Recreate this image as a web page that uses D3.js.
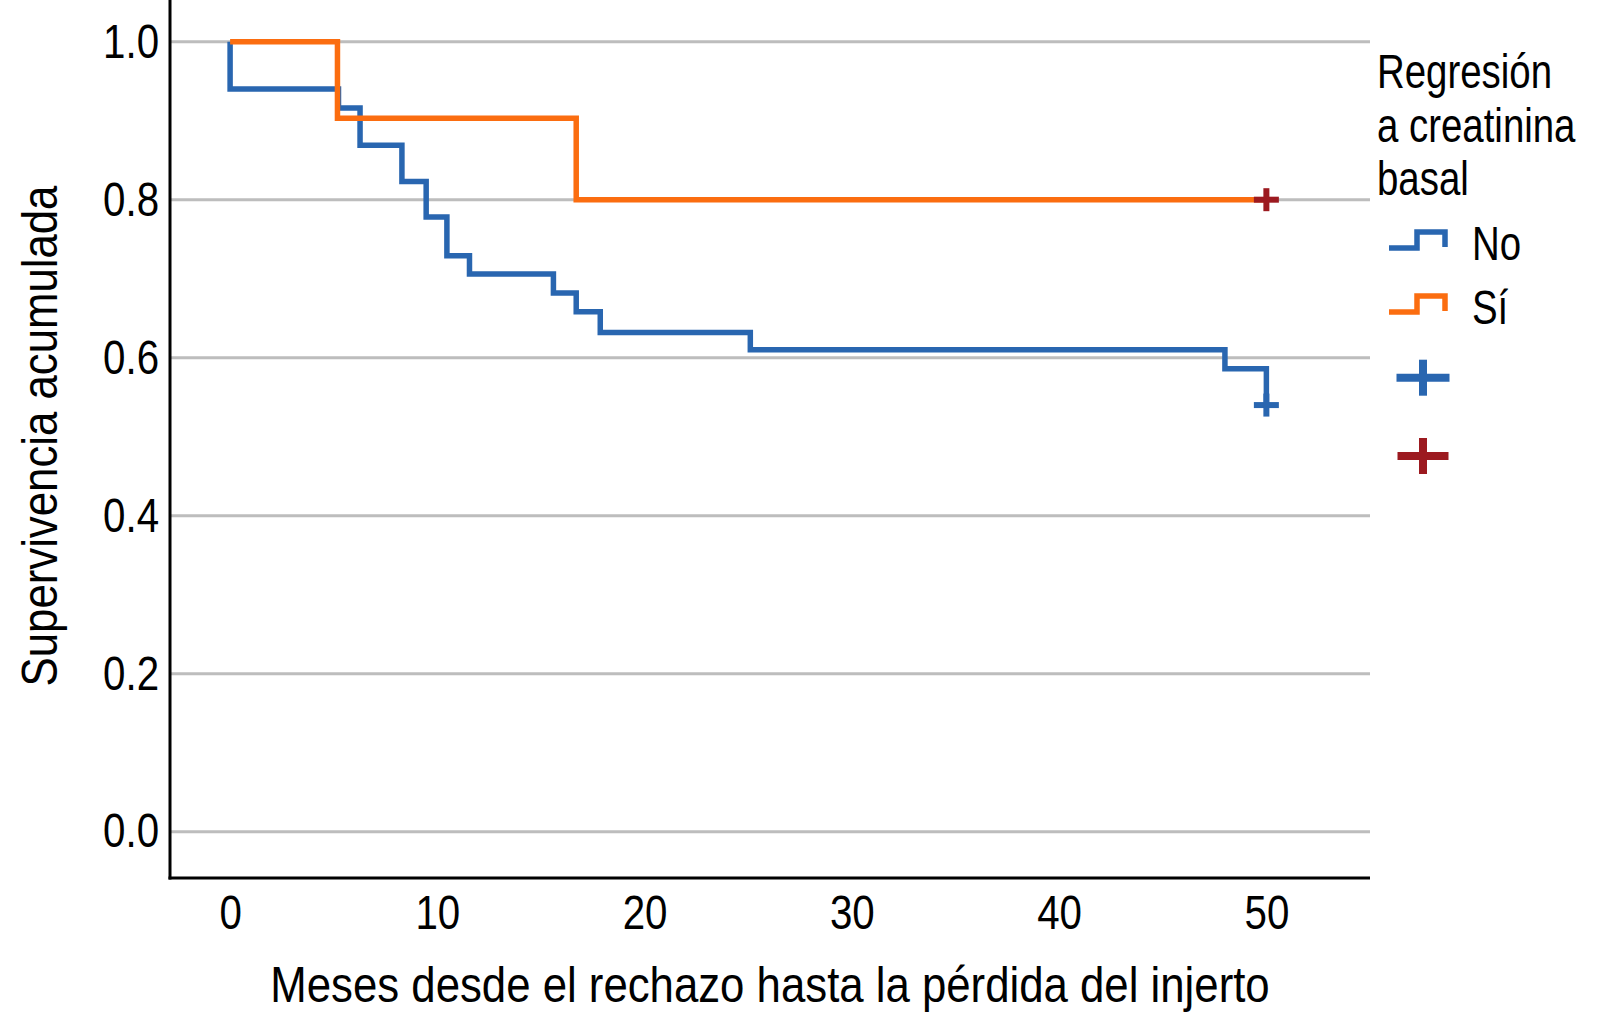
<!DOCTYPE html>
<html>
<head>
<meta charset="utf-8">
<script src="https://cdn.jsdelivr.net/npm/d3@7"></script>
<style>
  body { margin: 0; background: #fff; }
  text { font-family: "Liberation Sans", Arial, sans-serif; fill: #000; }
</style>
</head>
<body>
<svg id="chart"></svg>
<script>
// Kaplan-Meier curves
const noTimes = [0, 0, 5.23, 6.27, 8.29, 9.46, 10.46, 11.55, 15.6, 16.7, 17.86, 25.1, 48.0, 50];
const noSurv  = [1, 0.940, 0.916, 0.869, 0.823, 0.778, 0.729, 0.706, 0.682, 0.658, 0.632, 0.610, 0.586, 0.540];
const siTimes = [0, 5.18, 16.7, 50];
const siSurv  = [1, 0.903, 0.8, 0.8];
const noCensorTimes = [50];
const noCensorSurv  = [0.540];
const siCensorTimes = [50];
const siCensorSurv  = [0.8];

const xTicks = [0, 10, 20, 30, 40, 50];
const yTicks = [0, 0.2, 0.4, 0.6, 0.8, 1.0];
const groups = ["No", "Sí"];
const legendTitle = ["Regresión", "a creatinina", "basal"];
const xLabel = "Meses desde el rechazo hasta la pérdida del injerto";
const yLabel = "Supervivencia acumulada";

const colBlue = "#2966b0", colOrange = "#fb6d10", colRed = "#9c1a20", colGrid = "#bdbdbd";

const W = 1618, H = 1024;
const margin = {top: 0, left: 170};
const plotW = 1200, plotH = 878;

const svg = d3.select("#chart").attr("width", W).attr("height", H);
const chart = svg.append("g").attr("transform", `translate(${margin.left},${margin.top})`);

const x = d3.scaleLinear().domain([-2.9, 55.0]).range([0, plotW]);
const y = d3.scaleLinear().domain([-0.0587, 1.0528]).range([plotH, 0]);

// grid lines
chart.selectAll(".grid")
  .data(yTicks)
  .join("line")
    .attr("class", "grid")
    .attr("x1", 0).attr("x2", plotW)
    .attr("y1", d => y(d)).attr("y2", d => y(d))
    .attr("stroke", colGrid).attr("stroke-width", 3);

// axes (labels only)
const yAxis = chart.append("g")
  .call(d3.axisLeft(y).tickValues(yTicks).tickSize(0).tickPadding(13).tickFormat(d3.format(".1f")));
yAxis.select(".domain").remove();
yAxis.selectAll("text")
  .attr("font-size", 48)
  .attr("font-family", "Liberation Sans, Arial, sans-serif")
  .attr("transform", "scale(0.84,1)");

const xAxis = chart.append("g")
  .attr("transform", `translate(0,${plotH})`)
  .call(d3.axisBottom(x).tickValues(xTicks).tickSize(0).tickPadding(17));
xAxis.select(".domain").remove();
xAxis.selectAll("text")
  .attr("font-size", 48)
  .attr("font-family", "Liberation Sans, Arial, sans-serif")
  .attr("transform", "scale(0.84,1)");

// axis lines
chart.append("line")
  .attr("x1", 0).attr("x2", 0).attr("y1", 0).attr("y2", plotH + 1.5)
  .attr("stroke", "#000").attr("stroke-width", 3);
chart.append("line")
  .attr("x1", -1.5).attr("x2", plotW).attr("y1", plotH).attr("y2", plotH)
  .attr("stroke", "#000").attr("stroke-width", 3);

// survival curves
const line = d3.line()
  .x(d => x(d[0]))
  .y(d => y(d[1]))
  .curve(d3.curveStepAfter);

const noData = noTimes.map((t, i) => [t, noSurv[i]]);
const siData = siTimes.map((t, i) => [t, siSurv[i]]);

chart.append("path")
  .datum(noData)
  .attr("d", line)
  .attr("fill", "none")
  .attr("stroke", colBlue)
  .attr("stroke-width", 5.5);

chart.append("path")
  .datum(siData)
  .attr("d", line)
  .attr("fill", "none")
  .attr("stroke", colOrange)
  .attr("stroke-width", 5.5);

// censor marks
function plus(g, cx, cy, w, h, color, sw) {
  g.append("line").attr("x1", cx - w / 2).attr("x2", cx + w / 2).attr("y1", cy).attr("y2", cy)
    .attr("stroke", color).attr("stroke-width", sw);
  g.append("line").attr("x1", cx).attr("x2", cx).attr("y1", cy - h / 2).attr("y2", cy + h / 2)
    .attr("stroke", color).attr("stroke-width", sw);
}
noCensorTimes.forEach((t, i) => plus(chart, x(t), y(noCensorSurv[i]), 25, 23, colBlue, 6));
siCensorTimes.forEach((t, i) => plus(chart, x(t), y(siCensorSurv[i]), 25, 23, colRed, 6));

// axis titles
svg.append("text")
  .attr("transform", `translate(${770},${1002}) scale(0.875,1)`)
  .attr("text-anchor", "middle")
  .attr("font-size", 50)
  .text(xLabel);

svg.append("text")
  .attr("transform", `translate(${57},${436}) rotate(-90) scale(0.875,1)`)
  .attr("text-anchor", "middle")
  .attr("font-size", 50)
  .text(yLabel);

// legend
const legend = svg.append("g").attr("transform", "translate(1377,0)");
legendTitle.forEach((s, i) => {
  legend.append("text")
    .attr("transform", `translate(0,${88 + i * 53.5}) scale(0.8,1)`)
    .attr("font-size", 48)
    .text(s);
});

const legendColors = [colBlue, colOrange];
groups.forEach((g, i) => {
  const gy = 232 + i * 64;
  legend.append("path")
    .attr("d", `M12,${gy + 16} H40 V${gy} H68 V${gy + 15}`)
    .attr("fill", "none")
    .attr("stroke", legendColors[i])
    .attr("stroke-width", 5.5);
  legend.append("text")
    .attr("transform", `translate(95,${gy + 28}) scale(0.8,1)`)
    .attr("font-size", 48)
    .text(g);
});

plus(legend, 46, 377.7, 53, 36, colBlue, 8);
plus(legend, 46, 456, 51, 36, colRed, 8);
</script>
</body>
</html>
